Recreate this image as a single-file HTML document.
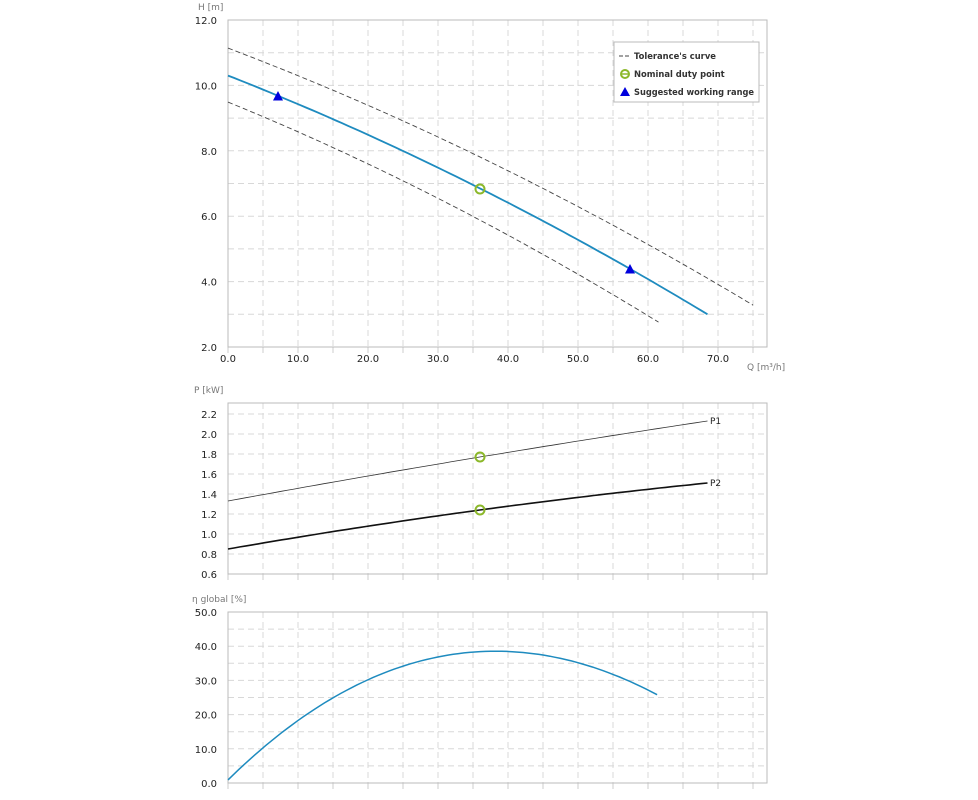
<!DOCTYPE html>
<html><head><meta charset="utf-8"><style>
html,body{margin:0;padding:0;background:#fff;}
svg{display:block;font-family:"DejaVu Sans","Liberation Sans",sans-serif;}
</style></head><body>
<svg id="s" width="978" height="800" xmlns="http://www.w3.org/2000/svg"></svg>
<script>
const S=document.getElementById('s');let h='';
const X0=228,XR=767,KX=7.0;const qx=q=>X0+q*KX;
function frame(top,bot,vmin,vmax,step,labStep,fmt){
  const ky=(bot-top)/(vmax-vmin);
  for(let q=5;q<=75;q+=5){h+=`<line x1="${qx(q)}" y1="${top}" x2="${qx(q)}" y2="${bot}" stroke="#d8d8d8" stroke-dasharray="6,4"/>`;
    h+=`<line x1="${qx(q)}" y1="${bot}" x2="${qx(q)}" y2="${bot+6}" stroke="#ccc"/>`;}
  h+=`<line x1="${X0}" y1="${bot}" x2="${X0}" y2="${bot+6}" stroke="#ccc"/>`;
  for(let v=vmin;v<=vmax+1e-9;v+=step){const y=bot-(v-vmin)*ky;
    if(v>vmin+1e-9)h+=`<line x1="${X0}" y1="${y}" x2="${XR}" y2="${y}" stroke="#d8d8d8" stroke-dasharray="6,4"/>`;}
  for(let v=vmin;v<=vmax+1e-9;v+=labStep){const y=bot-(v-vmin)*ky;
    h+=`<text x="217" y="${y+4}" font-size="10" fill="#222" text-anchor="end">${v.toFixed(fmt)}</text>`;}
  h+=`<rect x="${X0}" y="${top}" width="${XR-X0}" height="${bot-top}" fill="none" stroke="#bbb"/>`;
  return v=>bot-(v-vmin)*ky;
}
function lag(pts){return q=>{let s=0;for(let i=0;i<pts.length;i++){let t=pts[i][1];for(let j=0;j<pts.length;j++)if(j!=i)t*=(q-pts[j][0])/(pts[i][0]-pts[j][0]);s+=t;}return s;};}
function polyfit(pts,deg){const n=deg+1;const A=[];for(let i=0;i<n;i++){A.push(new Array(n+1).fill(0));}
  for(const [x,y] of pts){for(let i=0;i<n;i++){for(let j=0;j<n;j++)A[i][j]+=Math.pow(x,i+j);A[i][n]+=y*Math.pow(x,i);}}
  for(let i=0;i<n;i++){let p=i;for(let k=i+1;k<n;k++)if(Math.abs(A[k][i])>Math.abs(A[p][i]))p=k;[A[i],A[p]]=[A[p],A[i]];
    for(let k=0;k<n;k++)if(k!=i){const f=A[k][i]/A[i][i];for(let j=i;j<=n;j++)A[k][j]-=f*A[i][j];}}
  const c=A.map((r,i)=>r[n]/r[i]);return q=>c.reduce((s,ci,i)=>s+ci*Math.pow(q,i),0);}
function curve(f,q0,q1,yf,st,w,da){let d='';for(let i=0;i<=80;i++){const q=q0+(q1-q0)*i/80;d+=(i?'L':'M')+qx(q).toFixed(1)+','+yf(f(q)).toFixed(1);}
  h+=`<path d="${d}" fill="none" stroke="${st}" stroke-width="${w}" ${da?`stroke-dasharray="${da}"`:''}/>`;}
function circ(x,y){h+=`<circle cx="${x}" cy="${y}" r="4.5" fill="none" stroke="#8cb82a" stroke-width="2"/>`;}
function tri(x,y){h+=`<polygon points="${x-5},${y+4.5} ${x+5},${y+4.5} ${x},${y-5}" fill="#0000dd"/>`;}
// Chart 1
let y1=frame(20,347,2,12,1,2,1);
for(let q=0;q<=70;q+=10)h+=`<text x="${qx(q)}" y="362" font-size="10" fill="#222" text-anchor="middle">${q.toFixed(1)}</text>`;
h+=`<text x="198" y="10" font-size="9" fill="#777">H [m]</text>`;
h+=`<text x="747" y="370" font-size="9" fill="#777">Q [m³/h]</text>`;
curve(lag([[0,11.14],[36,7.81],[75,3.28]]),0,75,y1,'#444',0.9,'5,3');
curve(lag([[0,9.49],[36,5.88],[61.5,2.76]]),0,61.5,y1,'#444',0.9,'5,3');
curve(lag([[0,10.3],[36,6.85],[68.5,3.0]]),0,68.5,y1,'#1e8bbf',1.8);
circ(480,189);tri(278,96);tri(630,269);
h+=`<rect x="614" y="42" width="145" height="60" fill="#fff" stroke="#bbb"/>`;
h+=`<line x1="619" y1="56" x2="630" y2="56" stroke="#444" stroke-dasharray="4,2"/>`;
h+=`<text x="634" y="59" font-size="8.4" font-weight="bold" fill="#333">Tolerance's curve</text>`;
h+=`<circle cx="625" cy="74" r="4" fill="none" stroke="#8cb82a" stroke-width="2"/><line x1="621" y1="74" x2="629" y2="74" stroke="#8cb82a" stroke-width="1.5"/>`;
h+=`<text x="634" y="77" font-size="8.4" font-weight="bold" fill="#333">Nominal duty point</text>`;
h+=`<polygon points="620,96 630,96 625,87" fill="#0000dd"/>`;
h+=`<text x="634" y="95" font-size="8.4" font-weight="bold" fill="#333" textLength="120" lengthAdjust="spacingAndGlyphs">Suggested working range</text>`;
// Chart 2
let y2=frame(403,574,0.6,2.31,0.2,0.2,1);
h+=`<text x="194" y="393" font-size="9" fill="#777">P [kW]</text>`;
curve(lag([[0,1.33],[36,1.77],[68.5,2.13]]),0,68.5,y2,'#333',0.8);
curve(lag([[0,0.85],[36,1.24],[68.5,1.51]]),0,68.5,y2,'#111',1.6);
circ(480,457);circ(480,510);
h+=`<text x="710" y="424" font-size="9" fill="#222">P1</text><text x="710" y="486" font-size="9" fill="#222">P2</text>`;
// Chart 3
let y3=frame(612,783,0,50,5,10,1);
h+=`<text x="192" y="602" font-size="9" fill="#777">η global [%]</text>`;
curve(polyfit([[0,0.8],[5,10],[10,19],[20,30],[30,36.4],[39,38.7],[50,35.4],[61.3,25.7]],3),0,61.3,y3,'#1e8bbf',1.5);
S.innerHTML=h;
</script>
</body></html>
